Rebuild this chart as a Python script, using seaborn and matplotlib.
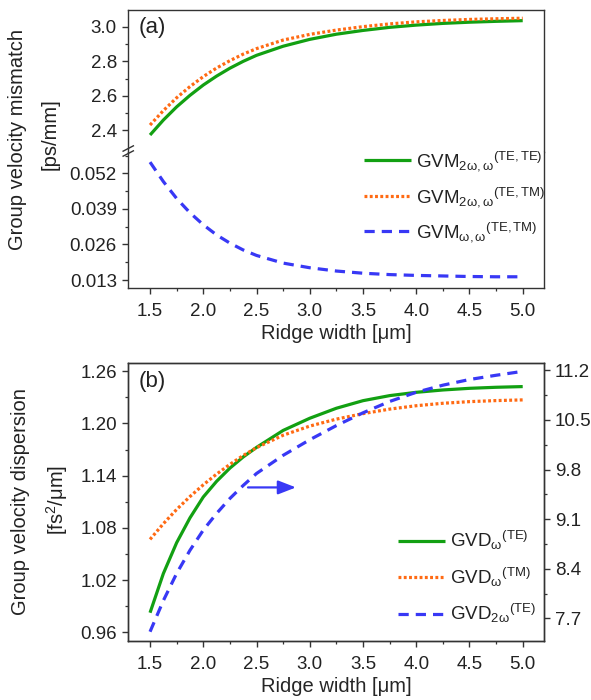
import numpy as np
import pandas as pd
import matplotlib
matplotlib.use('Agg')
import matplotlib.pyplot as plt
import seaborn as sns
from matplotlib.ticker import FixedLocator, MultipleLocator
from matplotlib.lines import Line2D

# ---------------- data ----------------
ridge_width = [1.5, 1.625, 1.75, 1.875, 2.0, 2.125, 2.25, 2.375, 2.5, 2.75, 3.0, 3.25,
               3.5, 3.75, 4.0, 4.25, 4.5, 4.75, 5.0]

gvm_2w_w_te_te = [2.371, 2.458, 2.535, 2.602, 2.662, 2.714, 2.760, 2.800, 2.835, 2.888, 2.928,
                  2.958, 2.980, 2.998, 3.011, 3.021, 3.028, 3.033, 3.037]
gvm_2w_w_te_tm = [2.429, 2.513, 2.588, 2.653, 2.711, 2.761, 2.804, 2.842, 2.874, 2.924, 2.957,
                  2.982, 3.002, 3.018, 3.030, 3.038, 3.044, 3.048, 3.051]
gvm_w_w_te_tm = [0.0561, 0.0490, 0.0428, 0.0376, 0.0332, 0.0295, 0.0265, 0.0240, 0.0220, 0.0192,
                 0.0175, 0.0163, 0.0155, 0.0150, 0.0147, 0.0145, 0.0143, 0.0142, 0.0142]

gvd_w_te = [0.9825, 1.0275, 1.0630, 1.0915, 1.1155, 1.1335, 1.1487, 1.1615, 1.1725, 1.1920,
            1.2060, 1.2175, 1.2262, 1.2320, 1.2358, 1.2385, 1.2404, 1.2416, 1.2424]
gvd_w_tm = [1.0668, 1.0848, 1.1012, 1.1160, 1.1295, 1.1418, 1.1530, 1.1632, 1.1722, 1.1865,
            1.1970, 1.2050, 1.2113, 1.2165, 1.2204, 1.2232, 1.2251, 1.2263, 1.2271]
gvd_2w_te = [7.511, 7.950, 8.334, 8.660, 8.945, 9.180, 9.391, 9.575, 9.744, 10.00, 10.22,
             10.42, 10.60, 10.76, 10.89, 10.99, 11.07, 11.13, 11.185]

xticks = [1.5, 2.0, 2.5, 3.0, 3.5, 4.0, 4.5, 5.0]
yticks_a_hi = [2.4, 2.6, 2.8, 3.0]
yticks_a_lo = [0.013, 0.026, 0.039, 0.052]
yticks_b_left = [0.96, 1.02, 1.08, 1.14, 1.20, 1.26]
yticks_b_right = [7.7, 8.4, 9.1, 9.8, 10.5, 11.2]

labels_a = [r'$\mathrm{GVM}_{\mathrm{2\omega,\omega}}{}^{\mathrm{(TE,TE)}}$',
            r'$\mathrm{GVM}_{\mathrm{2\omega,\omega}}{}^{\mathrm{(TE,TM)}}$',
            r'$\mathrm{GVM}_{\mathrm{\omega,\omega}}{}^{\mathrm{(TE,TM)}}$']
labels_b = [r'$\mathrm{GVD}_{\mathrm{\omega}}{}^{\mathrm{(TE)}}$',
            r'$\mathrm{GVD}_{\mathrm{\omega}}{}^{\mathrm{(TM)}}$',
            r'$\mathrm{GVD}_{\mathrm{2\omega}}{}^{\mathrm{(TE)}}$']

df = pd.DataFrame({'w': ridge_width,
                   'gvm1': gvm_2w_w_te_te, 'gvm2': gvm_2w_w_te_tm, 'gvm3': gvm_w_w_te_tm,
                   'gvd1': gvd_w_te, 'gvd2': gvd_w_tm, 'gvd3': gvd_2w_te})

# ---------------- style ----------------
sns.set_theme(style='ticks')
plt.rcParams['font.family'] = ['Liberation Sans', 'DejaVu Sans']
plt.rcParams.update({
    'mathtext.fontset': 'custom',
    'mathtext.rm': 'Liberation Sans',
    'mathtext.it': 'Liberation Sans:italic',
    'mathtext.bf': 'Liberation Sans:bold',
    'mathtext.sf': 'Liberation Sans',
    'axes.edgecolor': '#333333',
    'axes.linewidth': 1.0,
    'xtick.color': '#333333',
    'ytick.color': '#333333',
    'xtick.labelcolor': '#222222',
    'ytick.labelcolor': '#222222',
    'xtick.direction': 'out',
    'ytick.direction': 'out',
    'xtick.major.size': 4.5,
    'ytick.major.size': 4.5,
    'xtick.minor.size': 2.5,
    'ytick.minor.size': 2.5,
    'xtick.major.width': 1.0,
    'ytick.major.width': 1.0,
    'xtick.minor.width': 0.9,
    'ytick.minor.width': 0.9,
    'xtick.labelsize': 13.5,
    'ytick.labelsize': 13.5,
    'text.color': '#222222',
    'lines.solid_capstyle': 'butt',
})

GREEN = '#12a012'
ORANGE = '#ff6a13'
BLUE = '#3838f5'
LW = 2.3
DOT = (0, (0.9, 0.75))
DASH = (0, (3.2, 2.2))

W, H = 591, 700
fig = plt.figure(figsize=(W / 100, H / 100), dpi=100)

def frac(x0, y0, x1, y1):
    # pixel box (top-left origin) -> figure fraction rect
    return [x0 / W, 1 - y1 / H, (x1 - x0) / W, (y1 - y0) / H]

ax_hi = fig.add_axes(frac(128, 10, 544, 152))
ax_lo = fig.add_axes(frac(128, 152, 544, 288))
ax_b = fig.add_axes(frac(128, 363, 544, 641))
ax_br = ax_b.twinx()

xlim = (1.293, 5.2)

# ---------------- panel (a) ----------------
sns.lineplot(data=df, x='w', y='gvm1', ax=ax_hi, color=GREEN, lw=LW, label=labels_a[0])
sns.lineplot(data=df, x='w', y='gvm2', ax=ax_hi, color=ORANGE, lw=LW, linestyle=DOT,
             label=labels_a[1])
sns.lineplot(data=df, x='w', y='gvm3', ax=ax_lo, color=BLUE, lw=LW, linestyle=DASH,
             label=labels_a[2])

for a in (ax_hi, ax_lo):
    a.set_xlim(*xlim)
    a.set_xlabel('')
    a.set_ylabel('')
ax_hi.set_ylim(2.272, 3.099)
ax_lo.set_ylim(0.0101, 0.0598)
ax_hi.yaxis.set_major_locator(FixedLocator(yticks_a_hi))
ax_hi.yaxis.set_minor_locator(FixedLocator([2.5, 2.7, 2.9]))
ax_hi.set_yticklabels([f'{v:.1f}' for v in yticks_a_hi])
ax_lo.yaxis.set_major_locator(FixedLocator(yticks_a_lo))
ax_lo.yaxis.set_minor_locator(FixedLocator([0.0195, 0.0325, 0.0455, 0.0585]))
ax_lo.set_yticklabels([f'{v:.3f}' for v in yticks_a_lo])

ax_hi.spines['bottom'].set_visible(False)
ax_lo.spines['top'].set_visible(False)
ax_hi.tick_params(axis='x', which='both', bottom=False, labelbottom=False, top=False)
ax_hi.tick_params(axis='y', which='both', right=False)
ax_lo.tick_params(axis='y', which='both', right=False)

ax_lo.xaxis.set_major_locator(FixedLocator(xticks))
ax_lo.xaxis.set_minor_locator(MultipleLocator(0.25))
ax_lo.set_xticklabels([f'{v:.1f}' for v in xticks])
ax_lo.tick_params(axis='x', which='both', top=False, pad=6)
ax_lo.set_xlabel('Ridge width [μm]', fontsize=14.5, labelpad=3)

ax_hi.get_legend().remove()
ax_lo.get_legend().remove()
h1, _ = ax_hi.get_legend_handles_labels()
h2, _ = ax_lo.get_legend_handles_labels()
leg_a = ax_lo.legend(h1 + h2, labels_a, loc='upper left', frameon=False,
                     bbox_to_anchor=(364 / W, 1 - 149 / H), bbox_transform=fig.transFigure,
                     fontsize=13.5, handlelength=2.5, handletextpad=0.3,
                     labelspacing=0.62, borderpad=0, borderaxespad=0)

ax_hi.text(0.025, 0.88, '(a)', transform=ax_hi.transAxes, fontsize=16,
           ha='left', va='center')

# axis break marks on left spine
for yc in (148.5, 153.5):
    fig.add_artist(Line2D([122.5 / W, 134 / W], [1 - (yc + 3) / H, 1 - (yc - 3) / H],
                          color='#333333', lw=1.0, transform=fig.transFigure))

fig.text(18 / W, 1 - 139 / H, 'Group velocity mismatch', rotation=90,
         ha='center', va='center', fontsize=14.5)
fig.text(50 / W, 1 - 134 / H, '[ps/mm]', rotation=90,
         ha='center', va='center', fontsize=14.5)

# ---------------- panel (b) ----------------
sns.lineplot(data=df, x='w', y='gvd1', ax=ax_b, color=GREEN, lw=LW, label=labels_b[0])
sns.lineplot(data=df, x='w', y='gvd2', ax=ax_b, color=ORANGE, lw=LW, linestyle=DOT,
             label=labels_b[1])
sns.lineplot(data=df, x='w', y='gvd3', ax=ax_br, color=BLUE, lw=LW, linestyle=DASH,
             label=labels_b[2])

ax_b.set_xlim(*xlim)
ax_b.set_ylim(0.950, 1.2695)
ax_br.set_ylim(7.38, 11.303)
ax_b.set_xlabel('Ridge width [μm]', fontsize=14.5, labelpad=3)
ax_b.set_ylabel('')
ax_br.set_ylabel('')
ax_b.xaxis.set_major_locator(FixedLocator(xticks))
ax_b.xaxis.set_minor_locator(MultipleLocator(0.25))
ax_b.set_xticklabels([f'{v:.1f}' for v in xticks])
ax_b.tick_params(axis='x', which='both', top=False, pad=6)
ax_b.yaxis.set_major_locator(FixedLocator(yticks_b_left))
ax_b.yaxis.set_minor_locator(FixedLocator([0.99, 1.05, 1.11, 1.17, 1.23]))
ax_b.set_yticklabels([f'{v:.2f}' for v in yticks_b_left])
ax_br.yaxis.set_major_locator(FixedLocator(yticks_b_right))
ax_br.yaxis.set_minor_locator(FixedLocator([8.05, 8.75, 9.45, 10.15, 10.85]))
ax_br.set_yticklabels([f'{v:.1f}' for v in yticks_b_right])
ax_br.spines['top'].set_visible(True)

ax_b.get_legend().remove()
ax_br.get_legend().remove()
hb1, _ = ax_b.get_legend_handles_labels()
hb2, _ = ax_br.get_legend_handles_labels()
leg_b = ax_br.legend(hb1 + hb2, labels_b, loc='upper left', frameon=False,
                     bbox_to_anchor=(398 / W, 1 - 529 / H), bbox_transform=fig.transFigure,
                     fontsize=13.5, handlelength=2.5, handletextpad=0.3,
                     labelspacing=0.72, borderpad=0, borderaxespad=0)

ax_b.text(0.025, 0.935, '(b)', transform=ax_b.transAxes, fontsize=16,
          ha='left', va='center')

ax_b.annotate('', xy=(2.87, 1.1265), xytext=(2.42, 1.1265),
              arrowprops=dict(arrowstyle='-|>,head_length=0.9,head_width=0.35',
                              color=BLUE, lw=1.6, shrinkA=0, shrinkB=0))

fig.text(21 / W, 1 - 502 / H, 'Group velocity dispersion', rotation=90,
         ha='center', va='center', fontsize=14.5)
fig.text(57 / W, 1 - 500 / H, r'[fs$^{2}$/μm]', rotation=90,
         ha='center', va='center', fontsize=14.5)

fig.savefig('out.png', dpi=100)
